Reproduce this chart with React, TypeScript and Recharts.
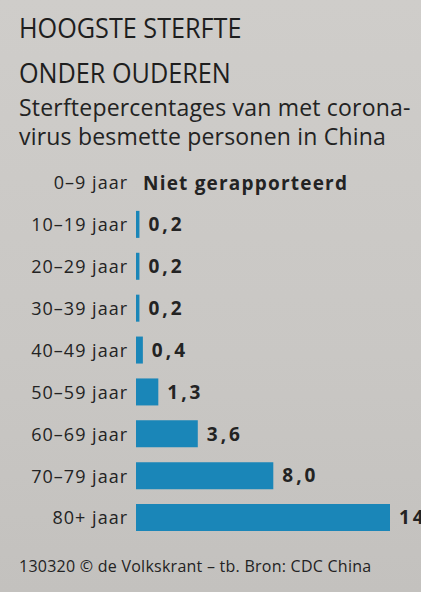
import { BarChart, Bar, XAxis, YAxis, LabelList } from 'recharts';

const ageGroups = ['0–9 jaar', '10–19 jaar', '20–29 jaar', '30–39 jaar', '40–49 jaar', '50–59 jaar', '60–69 jaar', '70–79 jaar', '80+ jaar'];
const deathRates: (number | null)[] = [null, 0.2, 0.2, 0.2, 0.4, 1.3, 3.6, 8.0, 14.8];
const missingLabel = 'Niet gerapporteerd';

const data = ageGroups.map((age, i) => ({ age, rate: deathRates[i] }));

const FONT = '"Open Sans", "Noto Sans", sans-serif';
const INK = '#232323';
const BLUE = '#1a86b8';

const fmt = (v: any) => (v == null ? '' : Number(v).toFixed(1).replace('.', ','));

function AgeTick(props: any) {
  const { x, y, payload, index } = props;
  const missing = deathRates[index] == null;
  return (
    <g>
      <text x={x} y={y} dy="0.355em" textAnchor="end" fill={INK} fontSize={18} fontFamily={FONT} letterSpacing={1}>
        {payload.value}
      </text>
      {missing && (
        <text x={x + 15} y={y} dy="0.355em" textAnchor="start" fill={INK} fontSize={19} fontWeight={700} fontFamily={FONT} letterSpacing={1.2}>
          {missingLabel}
        </text>
      )}
    </g>
  );
}

export default function App() {
  return (
    <div
      style={{
        position: 'fixed',
        left: 0,
        top: 0,
        width: 421,
        height: 592,
        overflow: 'hidden',
        background: 'linear-gradient(180deg, #cfcdca 0%, #c9c7c4 60%, #c3c1be 100%)',
        fontFamily: FONT,
        color: INK,
      }}
    >
      <div style={{ position: 'absolute', left: 19, top: 5, fontSize: 28, lineHeight: '45px', whiteSpace: 'nowrap', transform: 'scaleX(0.9)', transformOrigin: 'left top', color: '#1e1e1e' }}>
        <div style={{ height: 45 }}>HOOGSTE STERFTE</div>
        <div style={{ height: 45 }}>ONDER OUDEREN</div>
      </div>
      <div style={{ position: 'absolute', left: 19, top: 93, fontSize: 23, lineHeight: '29px', whiteSpace: 'nowrap', letterSpacing: 0.2 }}>
        <div>Sterftepercentages van met corona-</div>
        <div>virus besmette personen in China</div>
      </div>
      <div style={{ position: 'absolute', left: 0, top: 0 }}>
        <BarChart width={470} height={592} data={data} layout="vertical" margin={{ top: 162, right: 80, bottom: 53, left: 0 }}>
          <XAxis type="number" domain={[0, 'dataMax']} hide />
          <YAxis type="category" dataKey="age" width={136} axisLine={false} tickLine={false} tick={<AgeTick />} interval={0} />
          <Bar dataKey="rate" fill={BLUE} barSize={27} isAnimationActive={false}>
            <LabelList
              dataKey="rate"
              position="right"
              offset={9}
              formatter={fmt}
              fill={INK}
              fontSize={19}
              fontWeight={700}
              fontFamily={FONT}
              letterSpacing={3}
            />
          </Bar>
        </BarChart>
      </div>
      <div style={{ position: 'absolute', left: 19, top: 558, fontSize: 16, lineHeight: '16px', whiteSpace: 'nowrap', letterSpacing: 0.25 }}>
        130320 © de Volkskrant – tb. Bron: CDC China
      </div>
    </div>
  );
}
